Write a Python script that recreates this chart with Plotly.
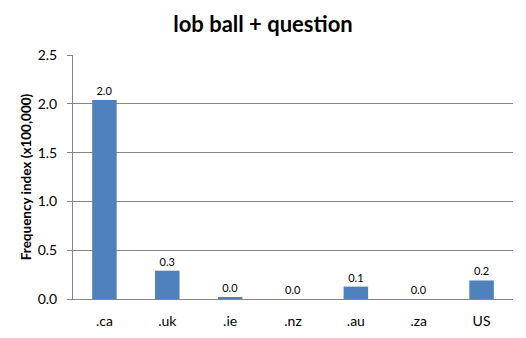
import plotly.graph_objects as go

categories = [".ca", ".uk", ".ie", ".nz", ".au", ".za", "US"]
values = [2.04, 0.29, 0.013, 0.0, 0.127, 0.0, 0.19]
labels = ["2.0", "0.3", "0.0", "0.0", "0.1", "0.0", "0.2"]
y_ticks = [0.0, 0.5, 1.0, 1.5, 2.0, 2.5]

fig = go.Figure(go.Bar(
    x=categories, y=values, text=labels, textposition="outside",
    textfont=dict(size=11, color="#000000", family="Lato"),
    marker=dict(color="#4f81bd", line=dict(width=0)),
    cliponaxis=False,
))
fig.update_layout(
    width=526, height=338,
    margin=dict(l=73, r=13, t=55, b=39),
    paper_bgcolor="white", plot_bgcolor="white",
    bargap=0.61,
    showlegend=False,
    title=dict(text="<b>lob ball + question</b>", x=0.5, xanchor="center",
               y=1 - 24/338, yanchor="middle",
               font=dict(size=22, family="Lato", color="#000000")),
    font=dict(family="Lato", color="#000000"),
)
fig.update_xaxes(showline=True, linecolor="#868686", linewidth=1, ticks="",
                 tickfont=dict(size=14), showgrid=False, ticklabelstandoff=9,
                 automargin=False)
fig.update_yaxes(range=[0, 2.5], tickvals=y_ticks, ticktext=[f"{v:.1f}" for v in y_ticks],
                 showline=True, linecolor="#868686", linewidth=1,
                 ticks="outside", ticklen=5, tickcolor="#868686",
                 showgrid=True, gridcolor="#868686", gridwidth=1,
                 zeroline=False, tickfont=dict(size=14), ticklabelstandoff=7,
                 automargin=False,
                 title=dict(text="<b>Frequency index (x100,000)</b>", font=dict(size=13.5), standoff=2))
fig.write_html("out.html")
